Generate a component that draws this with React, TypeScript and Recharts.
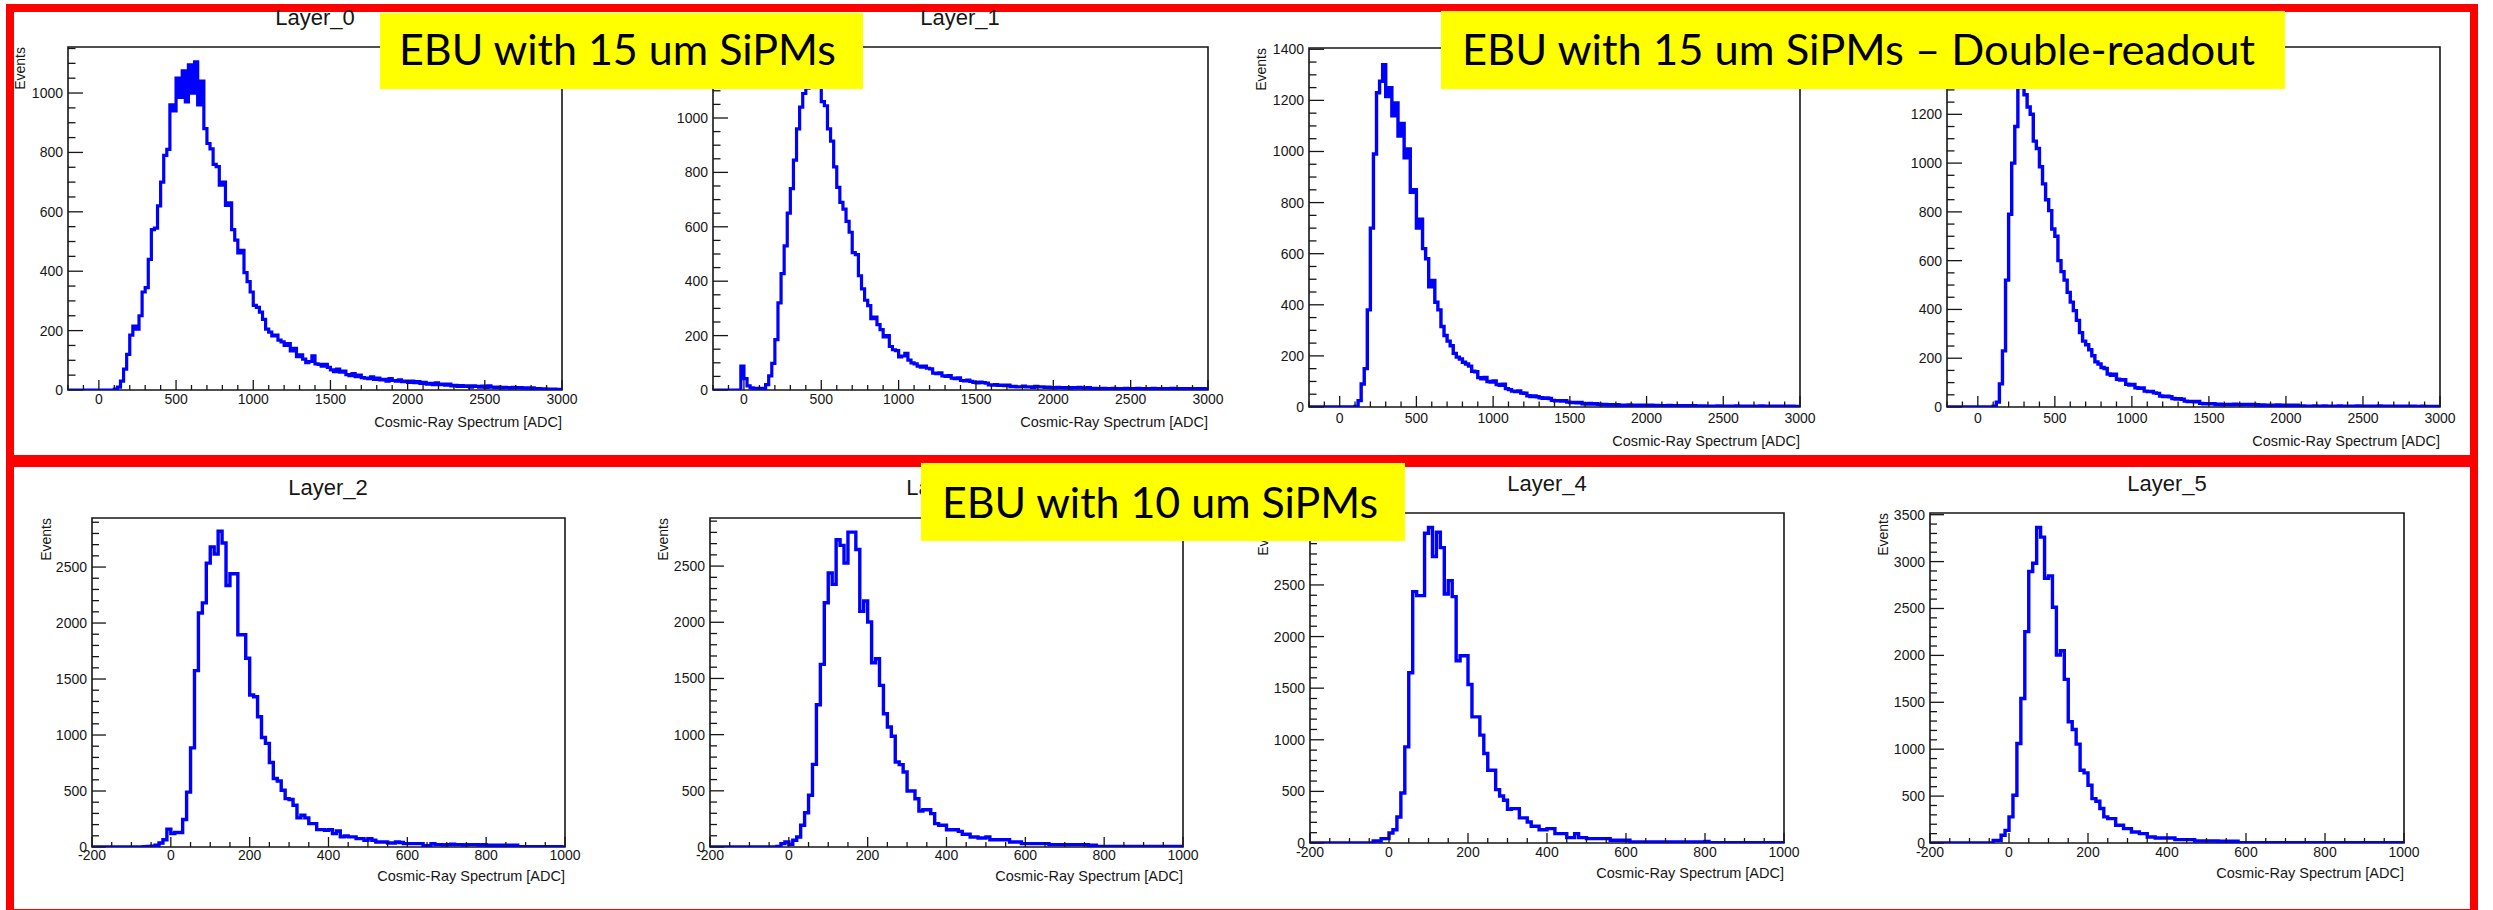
import React from 'react';
import { LineChart, Line, XAxis, YAxis, ReferenceArea } from 'recharts';

// binning of the histograms (ADC)
const topBinStart = -200;
const topBinWidth = 20;
const bottomBinStart = -200;
const bottomBinWidth = 10;

// ---- 15 um SiPMs, single readout ----
const layer0Counts = [
  0, 0, 0, 0, 0, 0, 0, 0, 0, 0, 0, 0, 0, 0, 0,
  3, 10, 30, 70, 120, 185, 215, 205, 250, 330, 345, 440, 540, 545, 620, 700, 790, 810, 960, 940,
  1050, 985, 1075, 970, 1095, 1000, 1105, 960, 1040,
  880, 830, 812, 760, 752, 690, 700, 622, 630, 540, 505, 462, 470, 395, 365, 330, 285,
  278, 262, 238, 205, 195, 182, 185, 168, 162, 150, 156, 132, 140, 112, 118, 104,
  92, 96, 115, 88, 86, 80, 86, 76, 68, 62, 70, 60, 64,
  52, 48, 55, 45, 50, 42, 40, 38, 44, 36, 40, 34, 36, 30, 38, 32, 30, 34,
  28, 30, 26, 30, 25, 28, 22, 26, 20, 22, 18, 24, 18, 20, 16, 20, 14, 16,
  12, 15, 12, 14, 10, 14, 12, 10, 13, 9, 14, 10, 8, 10, 7, 9, 8, 6,
  9, 7, 8, 6, 7, 5, 7, 4, 5, 3, 4, 3, 2, 3, 2, 2,
];

const layer1Counts = [
  0, 0, 0, 0, 0, 0, 0, 0, 0,
  88, 42, 15, 8, 5, 6, 4, 6, 20, 52, 98, 185,
  320, 428, 530, 650, 740, 845, 960, 1040, 1090, 1110, 1175, 1215, 1150, 1180, 1060, 1045, 960, 915, 820, 745,
  690, 665, 620, 580, 505, 498, 420, 372, 330, 310, 262, 268, 240, 222, 195, 200, 160, 148, 145, 122,
  125, 135, 110, 100, 96, 88, 84, 88, 80, 78, 62, 60, 63, 52, 50, 53, 44, 42, 45, 35, 33, 36, 32, 28, 26, 29, 27, 25,
  19, 18, 20, 17, 18, 16, 18,
  12, 13, 11, 12, 14, 11, 12, 10, 13, 11, 12, 10, 11,
  9, 8, 10, 9, 8, 9, 7, 9, 8, 10, 8, 7, 9,
  5, 6, 4, 5, 6, 5, 4, 6, 5, 5, 4, 6, 5, 4, 5, 6, 4, 5, 5, 4, 6, 5,
  4, 5, 5, 4, 6, 5, 4, 5, 4, 5, 5, 4, 5, 4, 5, 4,
];

// ---- 15 um SiPMs, double readout ----
const readoutACounts = [
  0, 0, 0, 0, 0, 0, 0, 0, 0, 0, 0, 0, 0, 0, 0,
  2, 25, 90, 150, 380, 700, 990,
  1230, 1275, 1340, 1215, 1250, 1140, 1190, 1060, 1110, 975, 1010, 840, 850, 700, 735, 620, 580, 470, 495, 410, 380, 315,
  280, 258, 240, 210, 195, 188, 175, 168, 160, 140, 138,
  115, 110, 116, 100, 98, 102, 88, 85, 89, 72, 68, 62, 60, 63, 55, 54,
  44, 41, 43, 40, 36, 34, 35, 33, 26, 24, 25, 23, 25, 19, 17, 18, 16, 18,
  13, 12, 14, 12, 13, 11, 9, 10, 8, 9, 8, 9,
  7, 6, 7, 8, 6, 7, 6, 7, 7, 6, 7, 5, 6,
  5, 4, 5, 6, 4, 5, 5, 4, 5, 4, 5, 5, 4,
  3, 4, 3, 2, 3, 3, 4, 3, 2, 3, 3, 2, 4, 3, 3, 2, 3, 3, 2, 3, 4, 3,
  2, 3, 2, 3, 3, 2, 3, 2, 3, 2, 2,
];

const readoutBCounts = [
  0, 0, 0, 0, 0, 0, 0, 0, 0, 0, 0, 0, 0, 0, 0,
  3, 20, 95, 230, 520, 790, 1000, 1150,
  1310, 1355, 1280, 1230, 1200, 1090, 1060, 985, 915, 850, 805, 730, 700, 600, 555, 520, 470, 430, 395, 355, 305,
  270, 255, 235, 210, 185, 176, 162, 158,
  135, 130, 134, 114, 110, 112, 93, 90, 92, 79, 77, 78, 65, 63, 64, 58, 56,
  45, 43, 44, 42, 35, 33, 34, 32, 24, 22, 23, 21, 23, 15, 13, 14, 13, 14,
  10, 11, 9, 10, 10, 9, 11, 10, 9, 10, 10, 9, 10, 9,
  7, 8, 6, 7, 7, 6, 8, 7, 6, 7, 7, 6, 7,
  3, 4, 3, 3, 2, 4, 3, 3, 4, 3, 2, 3, 3, 4, 2, 3, 3, 2, 3, 4, 3, 3,
  2, 3, 3, 2, 4, 3, 2, 3, 3, 2, 3, 3, 2, 3, 2, 3, 2, 2, 3, 2, 2, 2,
  2, 2,
];

// ---- 10 um SiPMs ----
const layer2Counts = [
  0, 0, 0, 0, 0, 0, 0, 0, 0, 0, 0, 0, 0,
  2, 4, 8, 15, 36, 65, 160, 120, 130, 130, 245, 490, 885, 1575, 2090, 2180, 2535, 2680, 2615, 2820, 2715, 2335,
  2440, 2440, 1895, 1895, 1685, 1357, 1342, 1163, 978, 925, 755, 612, 590, 507, 432, 424, 373, 260, 283, 260,
  209, 209, 155, 155, 149, 155, 119, 143, 90, 98, 90, 90, 75, 75, 60, 75, 60, 45, 45, 45, 36, 36, 45, 40,
  30, 30, 30, 30, 30, 12, 12, 30,
  21, 21, 18, 21, 24, 21, 21, 18, 21, 21, 21, 18, 21,
  15, 15, 15, 15, 15, 15, 15, 15,
  3, 3, 3, 3, 3, 3, 3, 3, 3, 3, 3, 0,
];

const layer3Counts = [
  0, 0, 0, 0, 0, 0, 0, 0, 0, 0, 0, 0, 0, 0, 0, 0, 0,
  5, 30, 45, 24, 60, 89, 193, 305, 460, 735, 1266, 1625, 2174, 2438, 2337, 2734, 2684, 2527, 2802, 2802, 2648,
  2097, 2189, 2002, 1640, 1676, 1438, 1186, 1068, 985, 756, 733, 667, 498, 498, 430, 320, 332, 332, 297, 208, 193, 193,
  154, 154, 154, 139, 113, 113, 89, 89, 80, 80, 89, 65, 65, 65, 65, 65, 45, 45, 45,
  30, 30, 30, 30, 30, 30, 30,
  21, 21, 21, 21, 21, 21, 21, 21, 21, 21,
  15, 15,
  6, 6, 6, 6, 6, 6, 6, 6, 6, 6, 6, 6, 6, 6, 6, 6, 6, 6, 6, 6, 6, 6,
];

const layer4Counts = [
  0, 0, 0, 0, 0, 0, 0, 0, 0, 0, 0, 0, 0, 0, 0, 0,
  19, 19, 42, 42, 97, 129, 252, 485, 931, 1649, 2435, 2397, 2397, 3001, 3056, 2775, 3011, 2862, 2413, 2542, 2387,
  1766, 1814, 1814, 1536, 1222, 1222, 1045, 867, 705, 705, 517, 456, 414, 327, 333, 333, 243, 243, 204, 162, 162,
  129, 129, 139, 139, 91, 91, 91, 52, 52, 91, 52, 52,
  42, 42, 42, 42, 42, 42,
  26, 26, 26, 26, 26,
  10, 10, 10, 10, 10, 10, 10, 10, 10, 10, 10, 10, 10, 10, 10, 10, 10, 10, 10,
  16,
  2, 2, 2, 2, 2, 2, 2, 2, 2, 2, 2, 2, 2, 2, 2, 2, 2, 2, 2,
];

const layer5Counts = [
  0, 0, 0, 0, 0, 0, 0, 0, 0, 0, 0, 0, 0, 0, 0, 0,
  28, 28, 82, 135, 278, 509, 1061, 1541, 2253, 2894, 2983, 3364, 3261, 2823, 2848, 2513, 2004, 2050, 1744, 1292,
  1210, 1054, 776, 748, 616, 473, 445, 367, 278, 260, 260, 189, 189, 153, 153, 117, 117, 100, 100, 64, 64,
  53, 53, 53, 53, 53,
  36, 36, 36, 36, 36,
  21, 21, 21, 21, 21, 21,
  18, 18, 18, 18, 18,
  2, 2, 2, 2, 2, 2, 2, 2, 2, 2, 2, 2, 2, 2, 2, 2, 2, 2, 2, 2, 2,
  2, 2, 2, 2, 2, 2, 2, 2, 2, 2, 2, 2, 2, 2, 2, 2, 2, 2, 2, 2, 2,
];

// tick labels
const topXMajor = [0, 500, 1000, 1500, 2000, 2500, 3000];
const bottomXMajor = [-200, 0, 200, 400, 600, 800, 1000];
const topYMajor = [0, 200, 400, 600, 800, 1000, 1200, 1400];
const bottomYMajor = [0, 500, 1000, 1500, 2000, 2500, 3000, 3500];

const rootFont = "'Liberation Sans', Arial, Helvetica, sans-serif";
const boxFont = "Lato, 'Open Sans', sans-serif";
const ink = '#161616';

const ML = 60;
const MT = 8;
const MR = 30;
const MB = 28;

function stepTicks(from: number, to: number, step: number) {
  const out: number[] = [];
  for (let v = from; v <= to + 1e-6; v += step) out.push(Math.round(v));
  return out;
}

function toSteps(counts: number[], start: number, width: number) {
  const pts = counts.map((c, i) => ({ x: start + i * width, y: c }));
  pts.push({ x: start + counts.length * width, y: counts[counts.length - 1] });
  return pts;
}

type Panel = {
  key: string;
  title?: string;
  counts: number[];
  binStart: number;
  binWidth: number;
  xMin: number;
  xMax: number;
  yMax: number;
  xMajor: number[];
  xMinorStep: number;
  yMajor: number[];
  yMinorStep: number;
  left: number;
  top: number;
  w: number;
  h: number;
  titleX: number;
  titleY: number;
  eventsX: number;
  xTitleY: number;
  xLabelDy: number;
  lineW: number;
};

const panels: Panel[] = [
  {
    key: 'l0', title: 'Layer_0', counts: layer0Counts, binStart: topBinStart, binWidth: topBinWidth,
    xMin: -200, xMax: 3000, yMax: 1155, xMajor: topXMajor, xMinorStep: 100, yMajor: topYMajor, yMinorStep: 50,
    left: 68, top: 47, w: 494, h: 343, titleX: 315, titleY: 25, eventsX: 25, xTitleY: 427, xLabelDy: 14, lineW: 3.2,
  },
  {
    key: 'l1', title: 'Layer_1', counts: layer1Counts, binStart: topBinStart, binWidth: topBinWidth,
    xMin: -200, xMax: 3000, yMax: 1261, xMajor: topXMajor, xMinorStep: 100, yMajor: topYMajor, yMinorStep: 50,
    left: 713, top: 47, w: 495, h: 343, titleX: 960, titleY: 25, eventsX: 670, xTitleY: 427, xLabelDy: 14, lineW: 3.2,
  },
  {
    key: 'ra', counts: readoutACounts, binStart: topBinStart, binWidth: topBinWidth,
    xMin: -200, xMax: 3000, yMax: 1405, xMajor: topXMajor, xMinorStep: 100, yMajor: topYMajor, yMinorStep: 50,
    left: 1309, top: 48, w: 491, h: 359, titleX: 1555, titleY: 25, eventsX: 1266, xTitleY: 446, xLabelDy: 16, lineW: 3.4,
  },
  {
    key: 'rb', counts: readoutBCounts, binStart: topBinStart, binWidth: topBinWidth,
    xMin: -200, xMax: 3000, yMax: 1476, xMajor: topXMajor, xMinorStep: 100, yMajor: topYMajor, yMinorStep: 50,
    left: 1947, top: 47, w: 493, h: 360, titleX: 2193, titleY: 25, eventsX: 1904, xTitleY: 446, xLabelDy: 16, lineW: 3.4,
  },
  {
    key: 'l2', title: 'Layer_2', counts: layer2Counts, binStart: bottomBinStart, binWidth: bottomBinWidth,
    xMin: -200, xMax: 1000, yMax: 2938, xMajor: bottomXMajor, xMinorStep: 50, yMajor: bottomYMajor, yMinorStep: 100,
    left: 92, top: 518, w: 473, h: 329, titleX: 328, titleY: 495, eventsX: 51, xTitleY: 881, xLabelDy: 13, lineW: 3.4,
  },
  {
    key: 'l3', title: 'Layer_3', counts: layer3Counts, binStart: bottomBinStart, binWidth: bottomBinWidth,
    xMin: -200, xMax: 1000, yMax: 2928, xMajor: bottomXMajor, xMinorStep: 50, yMajor: bottomYMajor, yMinorStep: 100,
    left: 710, top: 518, w: 473, h: 329, titleX: 946, titleY: 495, eventsX: 668, xTitleY: 881, xLabelDy: 13, lineW: 3.4,
  },
  {
    key: 'l4', title: 'Layer_4', counts: layer4Counts, binStart: bottomBinStart, binWidth: bottomBinWidth,
    xMin: -200, xMax: 1000, yMax: 3197, xMajor: bottomXMajor, xMinorStep: 50, yMajor: bottomYMajor, yMinorStep: 100,
    left: 1310, top: 513, w: 474, h: 330, titleX: 1547, titleY: 491, eventsX: 1268, xTitleY: 878, xLabelDy: 14, lineW: 3.4,
  },
  {
    key: 'l5', title: 'Layer_5', counts: layer5Counts, binStart: bottomBinStart, binWidth: bottomBinWidth,
    xMin: -200, xMax: 1000, yMax: 3518, xMajor: bottomXMajor, xMinorStep: 50, yMajor: bottomYMajor, yMinorStep: 100,
    left: 1930, top: 513, w: 474, h: 330, titleX: 2167, titleY: 491, eventsX: 1888, xTitleY: 878, xLabelDy: 14, lineW: 3.4,
  },
];

const labelBoxes = [
  { text: 'EBU with 15 um SiPMs', x: 380, y: 13, w: 483, h: 76, tx: 399, base: 65, len: 437 },
  { text: 'EBU with 15 um SiPMs – Double-readout', x: 1441, y: 11, w: 844, h: 78, tx: 1462, base: 65, len: 793 },
  { text: 'EBU with 10 um SiPMs', x: 921, y: 463, w: 484, h: 78, tx: 942, base: 518, len: 436 },
];

function HistPanel({ p }: { p: Panel }) {
  const data = toSteps(p.counts, p.binStart, p.binWidth);
  const xTicks = stepTicks(p.xMin, p.xMax, p.xMinorStep);
  const yTicks = stepTicks(0, p.yMax, p.yMinorStep);
  const axisY = MT + p.h;
  const xMajLen = Math.round(p.h * 0.03);
  const yMajLen = Math.round(p.w * 0.03);

  const xTick = (props: any) => {
    const x = props.x as number;
    const v = props.payload.value as number;
    const major = p.xMajor.includes(v);
    return (
      <g>
        <line x1={x} x2={x} y1={axisY} y2={axisY - (major ? xMajLen : xMajLen / 2)} stroke={ink} strokeWidth={1.3} />
        {major && (
          <text x={x} y={axisY + p.xLabelDy} textAnchor="middle" fontSize={14} fill={ink} fontFamily={rootFont}>
            {v}
          </text>
        )}
      </g>
    );
  };

  const yTick = (props: any) => {
    const y = props.y as number;
    const v = props.payload.value as number;
    const major = p.yMajor.includes(v);
    return (
      <g>
        <line x1={ML} x2={ML + (major ? yMajLen : yMajLen / 2)} y1={y} y2={y} stroke={ink} strokeWidth={1.3} />
        {major && (
          <text x={ML - 5} y={y + 5} textAnchor="end" fontSize={14} fill={ink} fontFamily={rootFont}>
            {v}
          </text>
        )}
      </g>
    );
  };

  return (
    <div style={{ position: 'absolute', left: p.left - ML, top: p.top - MT }}>
      <LineChart
        width={p.w + ML + MR}
        height={p.h + MT + MB}
        data={data}
        margin={{ top: MT, right: MR, bottom: 0, left: 0 }}
      >
        <ReferenceArea
          x1={p.xMin}
          x2={p.xMax}
          y1={0}
          y2={p.yMax}
          fill="none"
          fillOpacity={0}
          stroke={ink}
          strokeWidth={1.6}
          ifOverflow="visible"
        />
        <XAxis
          type="number"
          dataKey="x"
          domain={[p.xMin, p.xMax]}
          allowDataOverflow
          ticks={xTicks}
          interval={0}
          height={MB}
          axisLine={false}
          tickLine={false}
          tickSize={0}
          tick={xTick}
        />
        <YAxis
          type="number"
          domain={[0, p.yMax]}
          allowDataOverflow
          ticks={yTicks}
          interval={0}
          width={ML}
          axisLine={false}
          tickLine={false}
          tickSize={0}
          tick={yTick}
        />
        <Line
          type="stepAfter"
          dataKey="y"
          stroke="#0000ff"
          strokeWidth={p.lineW}
          dot={false}
          isAnimationActive={false}
        />
      </LineChart>
    </div>
  );
}

export default function App() {
  return (
    <div
      style={{
        position: 'absolute',
        left: 0,
        top: 0,
        width: 2493,
        height: 910,
        overflow: 'hidden',
        background: '#ffffff',
      }}
    >
      {/* red frames */}
      <div
        style={{
          position: 'absolute', left: 6, top: 4, width: 2472, height: 459,
          border: '8px solid #ff0000', boxSizing: 'border-box',
        }}
      />
      <div
        style={{
          position: 'absolute', left: 6, top: 459, width: 2472, height: 458,
          border: '8px solid #ff0000', boxSizing: 'border-box',
        }}
      />

      {panels.map((p) => (
        <HistPanel key={p.key} p={p} />
      ))}

      <svg
        width={2493}
        height={910}
        style={{ position: 'absolute', left: 0, top: 0, pointerEvents: 'none' }}
      >
        {panels.map((p) => (
          <g key={p.key} fontFamily={rootFont} fill={ink}>
            {p.title && (
              <text x={p.titleX} y={p.titleY} textAnchor="middle" fontSize={22}>
                {p.title}
              </text>
            )}
            <text
              transform={`translate(${p.eventsX},${p.top}) rotate(-90)`}
              textAnchor="end"
              fontSize={14}
            >
              Events
            </text>
            <text x={p.left + p.w} y={p.xTitleY} textAnchor="end" fontSize={14.5}>
              Cosmic-Ray Spectrum [ADC]
            </text>
          </g>
        ))}

        {labelBoxes.map((b) => (
          <g key={b.text}>
            <rect x={b.x} y={b.y} width={b.w} height={b.h} fill="#ffff00" />
            <text
              x={b.tx}
              y={b.base}
              fontFamily={boxFont}
              fontSize={43}
              fill="#000"
              textLength={b.len}
              lengthAdjust="spacingAndGlyphs"
            >
              {b.text}
            </text>
          </g>
        ))}
      </svg>
    </div>
  );
}
